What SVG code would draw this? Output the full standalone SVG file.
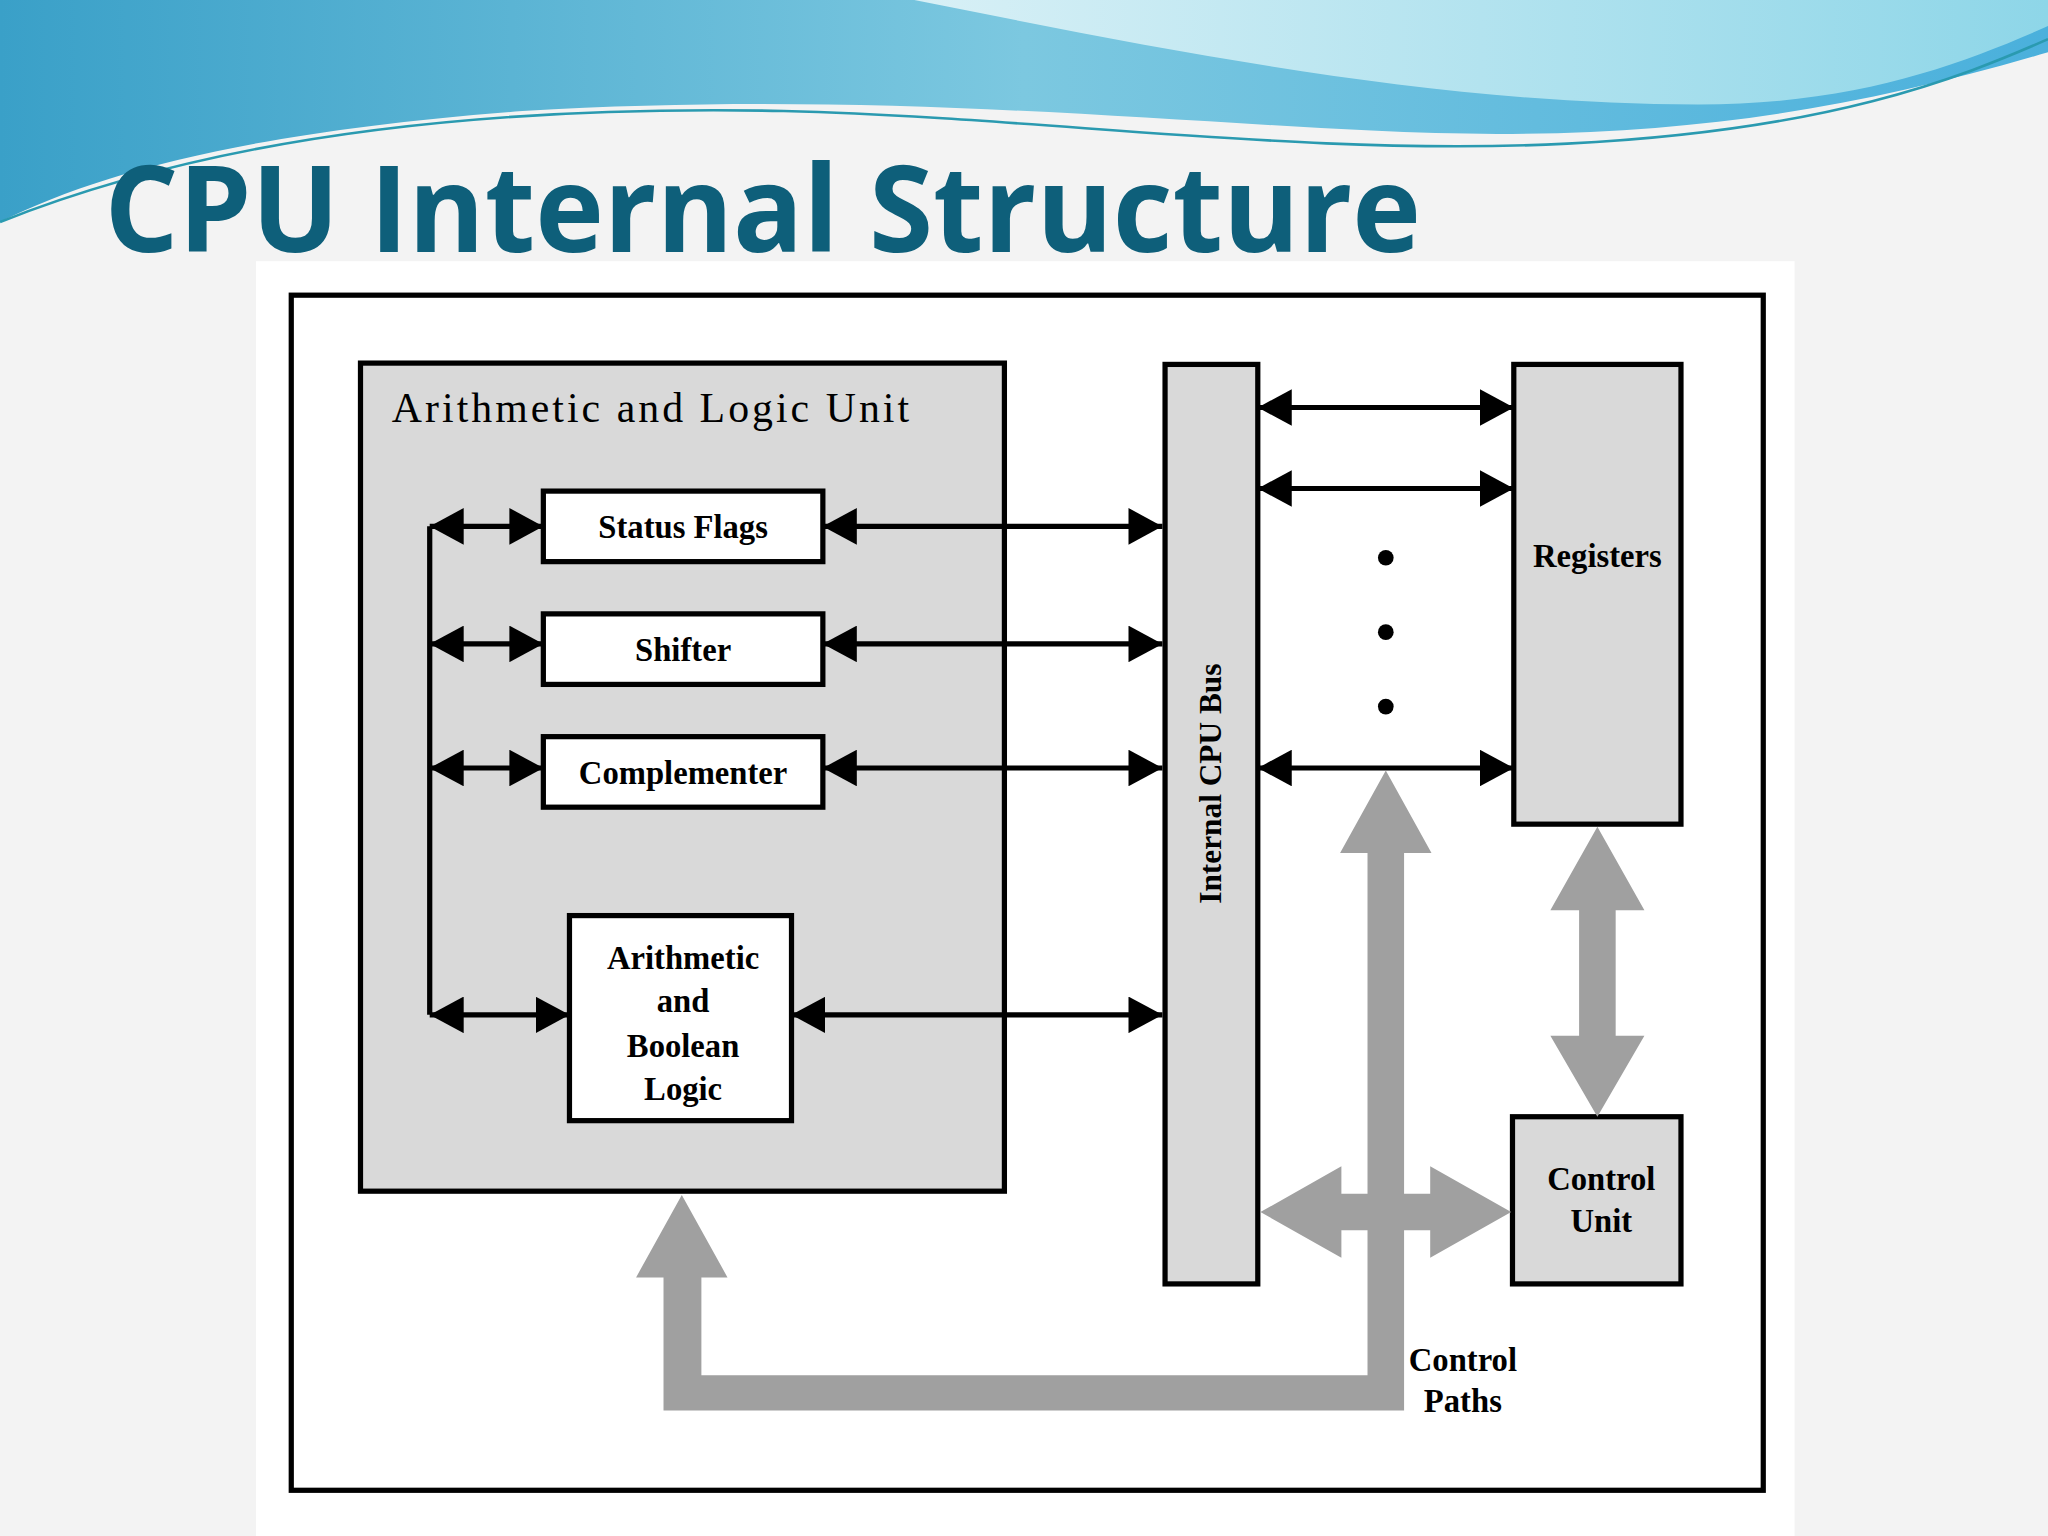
<svg xmlns="http://www.w3.org/2000/svg" width="2048" height="1536" viewBox="0 0 2048 1536">
<defs>
<linearGradient id="wv" x1="0" y1="0" x2="1" y2="0"><stop offset="0" stop-color="#3aa0c8"/><stop offset="0.5" stop-color="#7cc8e0"/><stop offset="1" stop-color="#4ab0dc"/></linearGradient>
<linearGradient id="wv2" x1="0" y1="0" x2="1" y2="0"><stop offset="0" stop-color="#d8f0f6"/><stop offset="1" stop-color="#8ed6e8"/></linearGradient>
<marker id="ah" viewBox="0 0 26 28" refX="26" refY="14" markerWidth="26" markerHeight="28" markerUnits="userSpaceOnUse" orient="auto-start-reverse"><path d="M0,0 L26,14 L0,28 Z" fill="#000"/></marker>
<style>
.box{stroke:#000;stroke-width:4}
.g{fill:#d9d9d9}
.w{fill:#fff}
.t{font-family:"Liberation Serif",serif;font-weight:bold;fill:#000;text-anchor:middle}
.c{stroke:#000;stroke-width:4;fill:none;marker-start:url(#ah);marker-end:url(#ah)}
.ga{fill:#a0a0a0}
</style>
</defs>
<rect width="2048" height="1536" fill="#f3f3f3"/>
<g transform="scale(1.30612)">
<rect x="196" y="200" width="1178" height="976" fill="#fff"/>
<path d="M0,0 H1568 V40 C1400,90 1250,110 1050,100 C850,90 650,70 400,85 C200,100 80,130 0,170 Z" fill="url(#wv)"/>
<path d="M700,0 C900,40 1100,80 1300,80 C1420,80 1500,50 1568,20 V0 Z" fill="url(#wv2)"/>
<path d="M0,170 C150,110 350,80 600,85 C800,90 1000,120 1200,110 C1400,100 1500,60 1568,30" fill="none" stroke="#2a9ab0" stroke-width="2"/>
<text x="80" y="193" font-family="Open Sans,sans-serif" font-weight="bold" font-size="92" fill="#0e5f7a" textLength="1008" lengthAdjust="spacingAndGlyphs">CPU Internal Structure</text>

<rect id="outer" x="223" y="226" width="1127" height="915" class="box" fill="#fff"/>
<g id="alu"><rect x="276" y="278" width="493" height="634" class="box g"/><text x="300" y="323" font-family="Liberation Serif,serif" font-size="32" textLength="396">Arithmetic and Logic Unit</text></g>
<g id="status"><rect x="416" y="376" width="214" height="54" class="box w"/><text x="523" y="412" class="t" font-size="25">Status Flags</text></g>
<g id="shifter"><rect x="416" y="470" width="214" height="54" class="box w"/><text x="523" y="506" class="t" font-size="25">Shifter</text></g>
<g id="compl"><rect x="416" y="564" width="214" height="54" class="box w"/><text x="523" y="600" class="t" font-size="25">Complementer</text></g>
<g id="abl"><rect x="436" y="701" width="170" height="157" class="box w"/><text class="t" font-size="25"><tspan x="523" y="742">Arithmetic</tspan><tspan x="523" y="775">and</tspan><tspan x="523" y="809">Boolean</tspan><tspan x="523" y="842">Logic</tspan></text></g>
<g id="bus"><rect x="892" y="279" width="71" height="704" class="box g"/><text transform="translate(935,600) rotate(-90)" class="t" font-size="24">Internal CPU Bus</text></g>
<g id="registers"><rect x="1159" y="279" width="128" height="352" class="box g"/><text x="1223" y="434" class="t" font-size="25">Registers</text></g>
<g id="control"><rect x="1158" y="855" width="129" height="128" class="box g"/><text class="t" font-size="25"><tspan x="1226" y="911">Control</tspan><tspan x="1226" y="943">Unit</tspan></text></g>
<g id="labels"><text class="t" font-size="25"><tspan x="1120" y="1050">Control</tspan><tspan x="1120" y="1081">Paths</tspan></text>
<circle cx="1061" cy="427" r="6"/><circle cx="1061" cy="484" r="6"/><circle cx="1061" cy="541" r="6"/></g>
<g id="connectors">
<line x1="329" y1="403" x2="329" y2="777" stroke="#000" stroke-width="4"/>
<line x1="329" y1="403" x2="416" y2="403" class="c"/>
<line x1="329" y1="493" x2="416" y2="493" class="c"/>
<line x1="329" y1="588" x2="416" y2="588" class="c"/>
<line x1="329" y1="777" x2="436" y2="777" class="c"/>
<line x1="630" y1="403" x2="890" y2="403" class="c"/>
<line x1="630" y1="493" x2="890" y2="493" class="c"/>
<line x1="630" y1="588" x2="890" y2="588" class="c"/>
<line x1="606" y1="777" x2="890" y2="777" class="c"/>
<line x1="963" y1="312" x2="1159" y2="312" class="c"/>
<line x1="963" y1="374" x2="1159" y2="374" class="c"/>
<line x1="963" y1="588" x2="1159" y2="588" class="c"/>
<path class="ga" d="M1061,590 L1096,653 L1075,653 L1075,1080 L508,1080 L508,978 L487,978 L522,915 L557,978 L537,978 L537,1053 L1047,1053 L1047,653 L1026,653 Z"/>
<path class="ga" d="M965,928 L1027,893 L1027,914 L1095,914 L1095,893 L1157,928 L1095,963 L1095,942 L1027,942 L1027,963 Z"/>
<path class="ga" d="M1223,633 L1259,697 L1237,697 L1237,793 L1259,793 L1223,855 L1187,793 L1209,793 L1209,697 L1187,697 Z"/>
</g>
</g>
</svg>
